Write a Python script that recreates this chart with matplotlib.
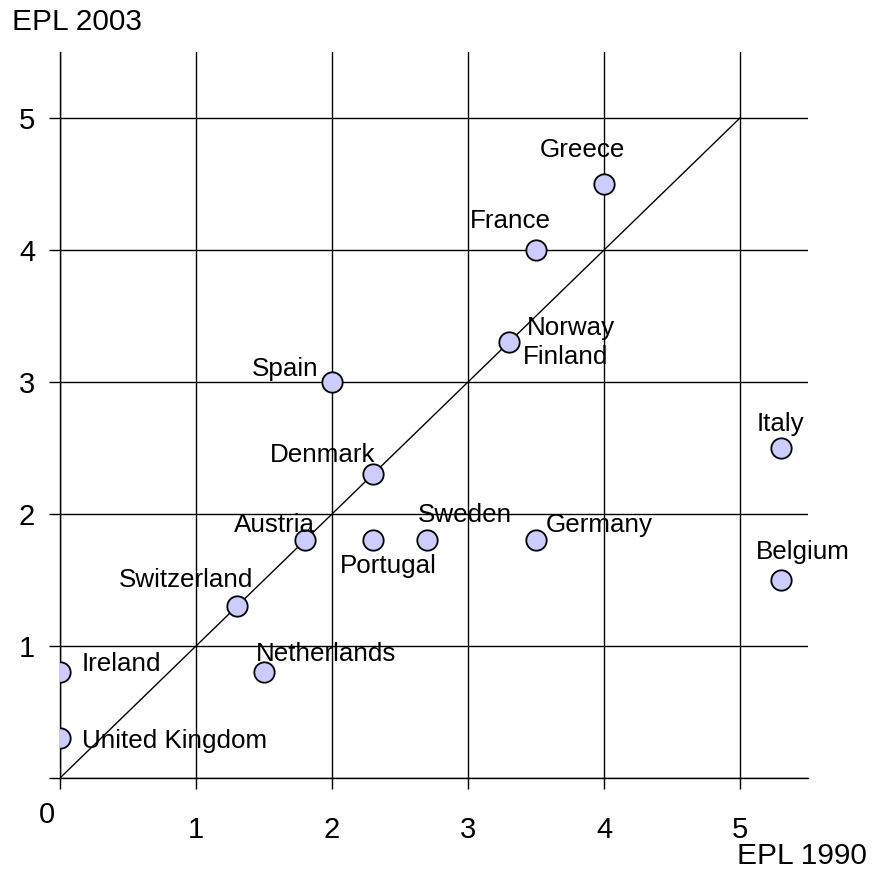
import matplotlib
matplotlib.use("Agg")
import matplotlib.pyplot as plt

plt.rcParams['font.family'] = ['Liberation Sans', 'DejaVu Sans']

countries = ['Greece', 'France', 'Norway\nFinland', 'Spain', 'Italy', 'Denmark',
             'Austria', 'Portugal', 'Sweden', 'Germany', 'Belgium', 'Switzerland',
             'Netherlands', 'Ireland', 'United Kingdom']
epl_1990 = [4.0, 3.5, 3.3, 2.0, 5.3, 2.3, 1.8, 2.3, 2.7, 3.5, 5.3, 1.3, 1.5, 0.0, 0.0]
epl_2003 = [4.5, 4.0, 3.3, 3.0, 2.5, 2.3, 1.8, 1.8, 1.8, 1.8, 1.5, 1.3, 0.8, 0.8, 0.3]

# label offsets in pixels (dx, dy, ha)
offsets = {
    'Greece': (-22, 34, 'center'),
    'France': (-26, 29, 'center'),
    'Spain': (-14, 13, 'right'),
    'Italy': (0, 24, 'center'),
    'Denmark': (-50, 19, 'center'),
    'Austria': (-30, 15, 'center'),
    'Portugal': (16, -26, 'center'),
    'Sweden': (38, 25, 'center'),
    'Germany': (63, 15, 'center'),
    'Belgium': (22, 28, 'center'),
    'Switzerland': (-51, 26, 'center'),
    'Netherlands': (62, 18, 'center'),
    'Ireland': (22, 8, 'left'),
    'United Kingdom': (22, -3, 'left'),
}
fs = 18.7

fig = plt.figure(figsize=(8.72, 8.72), dpi=100)
ax = fig.add_axes([60/872, 94/872, 748/872, 726/872])

ax.plot([0, 5], [0, 5], color='black', lw=1, zorder=2)
ax.scatter(epl_1990, epl_2003, s=215, facecolor='#ccccff', edgecolor='black',
           linewidth=1.3, zorder=3)

for name, x, y in zip(countries, epl_1990, epl_2003):
    if name.startswith('Norway'):
        ax.annotate('Norway', (x, y), xytext=(18, 14), textcoords='offset pixels',
                    ha='left', va='center', fontsize=fs)
        ax.annotate('Finland', (x, y), xytext=(14, -15), textcoords='offset pixels',
                    ha='left', va='center', fontsize=fs)
        continue
    dx, dy, ha = offsets[name]
    ax.annotate(name, (x, y), xytext=(dx, dy), textcoords='offset pixels',
                ha=ha, va='center', fontsize=fs)

ax.set_xlim(0, 5.5)
ax.set_ylim(0, 5.5)
ax.set_xticks(range(6))
ax.set_yticks(range(6))
ax.set_xticklabels([''] + [str(i) for i in range(1, 6)])
ax.set_yticklabels([''] + [str(i) for i in range(1, 6)])
ax.tick_params(length=8, width=1, color='black', labelsize=21)
ax.tick_params(axis='x', pad=19)
ax.tick_params(axis='y', pad=10)
ax.grid(True, color='black', lw=1)
ax.set_axisbelow(True)
for s in ['top', 'right']:
    ax.spines[s].set_visible(False)
for s in ['left', 'bottom']:
    ax.spines[s].set_linewidth(1)

fig.text(47/872, 1 - 815/872, '0', fontsize=21, ha='center', va='center')
fig.text(12/872, 1 - 22/872, 'EPL 2003', fontsize=21.5, ha='left', va='center')
fig.text(867/872, 1 - 856/872, 'EPL 1990', fontsize=21.5, ha='right', va='center')

fig.savefig('out.png', dpi=100)
